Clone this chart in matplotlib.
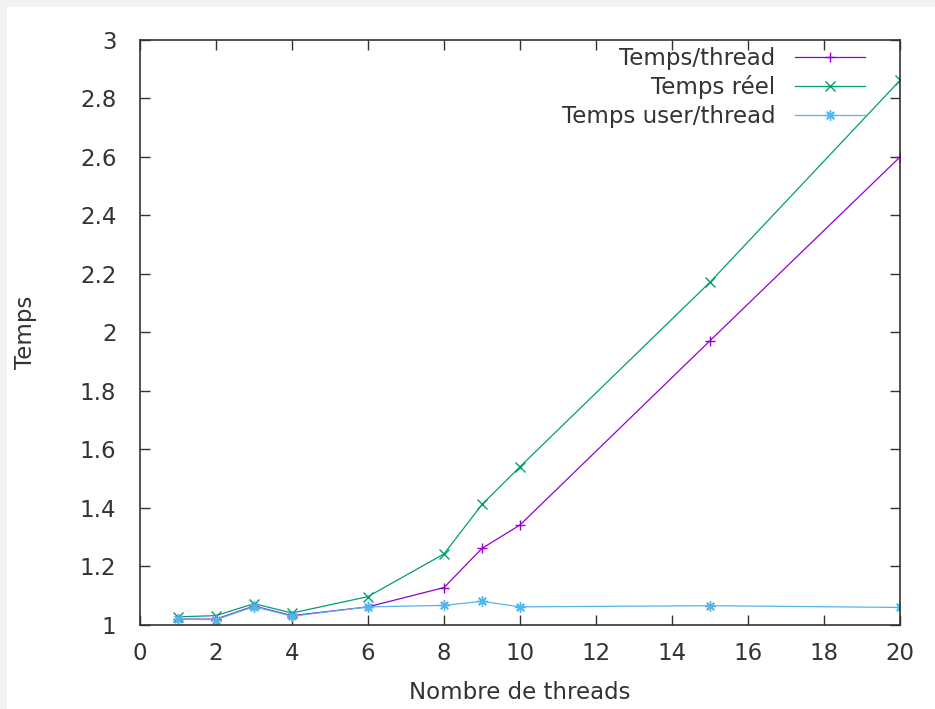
import matplotlib
matplotlib.use("Agg")
from matplotlib import pyplot as plt
from matplotlib.patches import Rectangle
import matplotlib.ticker as ticker

threads = [1, 2, 3, 4, 6, 8, 9, 10, 15, 20]
temps_thread = [1.020, 1.020, 1.065, 1.032, 1.062, 1.128, 1.262, 1.342, 1.972, 2.600]
temps_reel = [1.028, 1.032, 1.073, 1.041, 1.097, 1.243, 1.412, 1.541, 2.172, 2.862]
temps_user = [1.020, 1.018, 1.063, 1.030, 1.062, 1.067, 1.081, 1.062, 1.066, 1.060]

labels = ["Temps/thread", "Temps réel", "Temps user/thread"]
colors = ["#9400d3", "#009e73", "#56b4e9"]
markers = ["+", "x", (8, 2, 0)]

FS = 16.5
TXT = "#333333"


def main():
    plt.rcParams["font.family"] = ["DejaVu Sans"]
    fig = plt.figure(figsize=(9.35, 7.09), dpi=100, facecolor="#f2f2f2")
    fig.patches.append(Rectangle((7 / 935, 0), 1, (709 - 7) / 709, transform=fig.transFigure,
                                 facecolor="white", edgecolor="none", zorder=-10))
    ax = fig.add_axes([140 / 935, 1 - 625 / 709, 760 / 935, 585 / 709])
    ax.set_zorder(1)

    for ys, lab, c, m in zip([temps_thread, temps_reel, temps_user], labels, colors, markers):
        ax.plot(threads, ys, color=c, lw=0.9, marker=m, ms=7.5, mew=1, label=lab)

    ax.set_xlim(0, 20)
    ax.set_ylim(1, 3)
    ax.xaxis.set_major_locator(ticker.MultipleLocator(2))
    ax.yaxis.set_major_locator(ticker.MultipleLocator(0.2))
    ax.yaxis.set_major_formatter(ticker.FuncFormatter(lambda v, _: '{:g}'.format(round(v, 2))))
    ax.tick_params(direction="in", length=7, width=1, top=True, right=True,
                   labelsize=FS, colors=TXT, labelcolor=TXT)
    ax.tick_params(axis="y", pad=17)
    ax.tick_params(axis="x", pad=12)
    for s in ax.spines.values():
        s.set_color(TXT)
        s.set_linewidth(1.2)

    ax.set_xlabel("Nombre de threads", fontsize=FS, color=TXT, labelpad=12)
    ax.set_ylabel("Temps", fontsize=FS, color=TXT, labelpad=31)

    ax.legend(loc="upper right", bbox_to_anchor=((865 - 140) / 760, (625 - 47) / 585),
              frameon=False, markerfirst=False, fontsize=FS, handlelength=3.05,
              labelspacing=0.24, borderaxespad=0, handletextpad=0.87, borderpad=0,
              labelcolor=TXT)

    fig.savefig("out.png", dpi=100, facecolor=fig.get_facecolor())


if __name__ == "__main__":
    main()
